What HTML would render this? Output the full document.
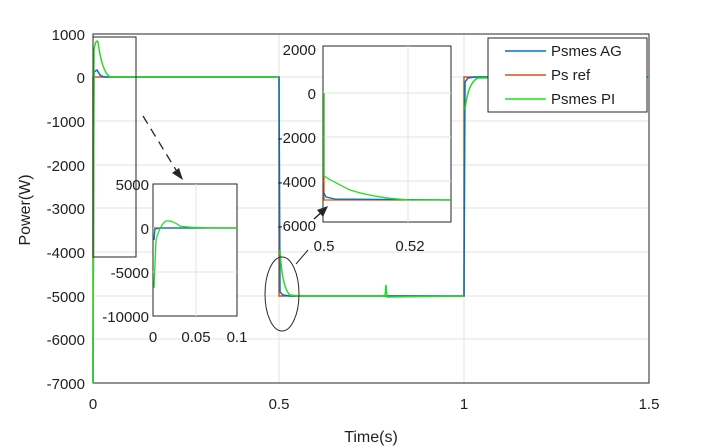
<!DOCTYPE html>
<html><head><style>body{margin:0;background:#fff}svg{display:block}text{font-family:"Liberation Sans",Arial,sans-serif;fill:#1f1f1f}</style></head>
<body>
<svg width="718" height="448" viewBox="0 0 718 448" xmlns="http://www.w3.org/2000/svg">
<rect width="718" height="448" fill="#fff"/>
<g stroke="#e3e3e3" stroke-width="1">
<line x1="279" y1="34" x2="279" y2="383"/><line x1="464" y1="34" x2="464" y2="383"/>
<line x1="93" y1="77" x2="649" y2="77"/><line x1="93" y1="121" x2="649" y2="121"/><line x1="93" y1="165" x2="649" y2="165"/><line x1="93" y1="208" x2="649" y2="208"/><line x1="93" y1="252" x2="649" y2="252"/><line x1="93" y1="296" x2="649" y2="296"/><line x1="93" y1="339" x2="649" y2="339"/>
</g>
<rect x="93" y="34" width="556" height="349" fill="none" stroke="#262626" stroke-width="1"/>
<g font-size="15" text-anchor="end">
<text x="85" y="40">1000</text><text x="85" y="83">0</text><text x="85" y="127">-1000</text><text x="85" y="171">-2000</text><text x="85" y="214">-3000</text><text x="85" y="258">-4000</text><text x="85" y="302">-5000</text><text x="85" y="345">-6000</text><text x="85" y="389">-7000</text>
</g>
<g font-size="15" text-anchor="middle">
<text x="93" y="409">0</text><text x="279" y="409">0.5</text><text x="464" y="409">1</text><text x="649" y="409">1.5</text>
<text x="371" y="442" font-size="16">Time(s)</text>
</g>
<text transform="translate(30,210) rotate(-90)" font-size="16" text-anchor="middle">Power(W)</text>
<polyline fill="none" stroke="#d95319" stroke-width="1.5" points="93,383 93,77 279,77 279,296 464,296 464,77 649,77"/>
<polyline fill="none" stroke="#0072bd" stroke-width="1.5" points="93,383 94,72 97,70 100,75 104,77 279,77 280,292 283,295 290,296 464,296 465,82 468,78 475,77 649,77"/>
<path fill="none" stroke="#22dd22" stroke-width="1.5" d="M93,383 L94,50 Q96,38 98,42 Q102,72 110,77 L279,77 M280,250 Q282,288 290,295 L300,296 L385,296 L386,285 L387,297 L464,296 M465,110 Q468,82 478,78 L649,77"/>
<rect x="93" y="37" width="43" height="220" fill="none" stroke="#262626" stroke-width="1"/>
<line x1="143" y1="116" x2="176" y2="170" stroke="#262626" stroke-width="1.3" stroke-dasharray="9,6"/>
<path d="M183,180 L172,173 L179,168 Z" fill="#262626"/>
<rect x="153" y="184" width="84" height="132" fill="#fff" stroke="#262626"/>
<line x1="196" y1="184" x2="196" y2="316" stroke="#e3e3e3"/>
<line x1="153" y1="228" x2="237" y2="228" stroke="#e3e3e3"/>
<line x1="153" y1="272" x2="237" y2="272" stroke="#e3e3e3"/>
<polyline fill="none" stroke="#d95319" stroke-width="1.3" points="154,228 237,228"/>
<polyline fill="none" stroke="#0072bd" stroke-width="1.3" points="154,240 155,229 160,228 237,228"/>
<path fill="none" stroke="#22dd22" stroke-width="1.3" d="M154,288 L156,240 Q160,225 166,221 Q172,220 180,226 Q186,228 237,228"/>
<g font-size="15">
<text x="149" y="190" text-anchor="end">5000</text><text x="149" y="234" text-anchor="end">0</text><text x="149" y="278" text-anchor="end">-5000</text><text x="149" y="322" text-anchor="end">-10000</text>
<text x="153" y="342" text-anchor="middle">0</text><text x="196" y="342" text-anchor="middle">0.05</text><text x="237" y="342" text-anchor="middle">0.1</text>
</g>
<rect x="323" y="46" width="128" height="176" fill="#fff" stroke="#262626"/>
<line x1="408" y1="46" x2="408" y2="222" stroke="#e3e3e3"/>
<line x1="323" y1="93" x2="451" y2="93" stroke="#e3e3e3"/>
<line x1="323" y1="137" x2="451" y2="137" stroke="#e3e3e3"/>
<line x1="323" y1="181" x2="451" y2="181" stroke="#e3e3e3"/>
<polyline fill="none" stroke="#d95319" stroke-width="1.3" points="324,93 324,200 451,200"/>
<polyline fill="none" stroke="#0072bd" stroke-width="1.3" points="324,193 326,197 335,199 451,200"/>
<path fill="none" stroke="#22dd22" stroke-width="1.3" d="M324,93 L324,176 Q330,180 350,190 Q375,198 410,200 L451,200"/>
<g font-size="15">
<text x="316" y="55" text-anchor="end">2000</text><text x="316" y="99" text-anchor="end">0</text><text x="316" y="143" text-anchor="end">-2000</text><text x="316" y="187" text-anchor="end">-4000</text><text x="316" y="231" text-anchor="end">-6000</text>
<text x="324" y="251" text-anchor="middle">0.5</text><text x="410" y="251" text-anchor="middle">0.52</text>
</g>
<ellipse cx="282" cy="294" rx="17" ry="37" fill="none" stroke="#262626" stroke-width="1"/>
<line x1="296" y1="264" x2="308" y2="250" stroke="#262626"/>
<line x1="314" y1="219" x2="324" y2="210" stroke="#262626" stroke-width="1.5"/>
<path d="M328,206 L317,210 L323,217 Z" fill="#262626"/>
<rect x="488" y="38" width="159" height="74" fill="#fff" stroke="#262626"/>
<g stroke-width="1.5">
<line x1="505" y1="51" x2="546" y2="51" stroke="#0072bd"/>
<line x1="505" y1="75" x2="546" y2="75" stroke="#d95319"/>
<line x1="505" y1="99" x2="546" y2="99" stroke="#22dd22"/>
</g>
<g font-size="15">
<text x="551" y="56">Psmes AG</text><text x="551" y="80">Ps ref</text><text x="551" y="104">Psmes PI</text>
</g>
</svg>
</body></html>
